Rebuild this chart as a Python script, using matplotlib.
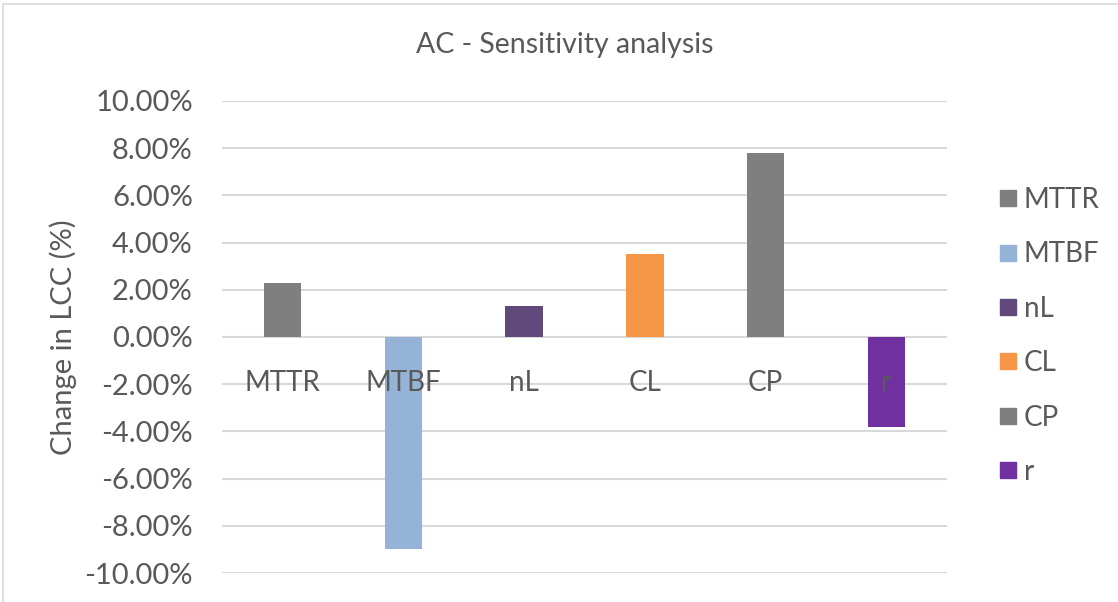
import matplotlib.pyplot as plt
from matplotlib.lines import Line2D
from matplotlib.patches import Rectangle
from matplotlib.ticker import FuncFormatter

# sensitivity of life-cycle cost to each parameter, in percent
params = ["MTTR", "MTBF", "nL", "CL", "CP", "r"]
change = [2.3, -9.0, 1.3, 3.5, 7.8, -3.8]
colors = ["#7f7f7f", "#95b3d7", "#604a7b", "#f79646", "#7f7f7f", "#7030a0"]

txt = "#595959"
plt.rcParams['font.family'] = ['Lato', 'DejaVu Sans']

fig = plt.figure(figsize=(11.18, 6.02), dpi=100)
ax = fig.add_axes([222/1118, 29/602, 725/1118, 472/602])

# chart border
fig.patches.append(Rectangle((3/1118, -0.02), 1.1, (602-4)/602 + 0.02,
                             transform=fig.transFigure, fill=False,
                             edgecolor="#d9d9d9", linewidth=1.2))

for i in range(len(params)):
    ax.bar(i, change[i], width=0.31, color=colors[i], zorder=3)
    ax.annotate(params[i], xy=(i, 0), xytext=(0, -33), textcoords='offset points',
                ha='center', va='center', fontsize=20, color=txt, zorder=4)

ax.set_xlim(-0.5, len(params) - 0.5)
ax.set_ylim(-10, 10)
ax.set_yticks(range(-10, 11, 2))
ax.yaxis.set_major_formatter(FuncFormatter(lambda v, p: "%.2f%%" % v))
ax.tick_params(axis='y', length=0, pad=21, labelsize=21, labelcolor=txt)
ax.set_xticks([])
ax.grid(axis='y', color="#d9d9d9", linewidth=1.5, zorder=0)
for s in ax.spines.values():
    s.set_visible(False)

ax.set_ylabel("Change in LCC (%)", fontsize=21, color=txt, labelpad=5)
fig.text(565/1118, 1 - 45/602, "AC - Sensitivity analysis", ha='center', va='center',
         fontsize=20.5, color=txt)

handles = [Line2D([], [], marker='s', linestyle='none', markersize=12,
                  markerfacecolor=c, markeredgecolor=c) for c in colors]
fig.legend(handles, params, loc='center left', bbox_to_anchor=(975/1118, 1 - 336/602),
           frameon=False, fontsize=20, labelcolor=txt, handlelength=0.6,
           handletextpad=0.25, labelspacing=1.02)

plt.savefig("out.png", dpi=100)
